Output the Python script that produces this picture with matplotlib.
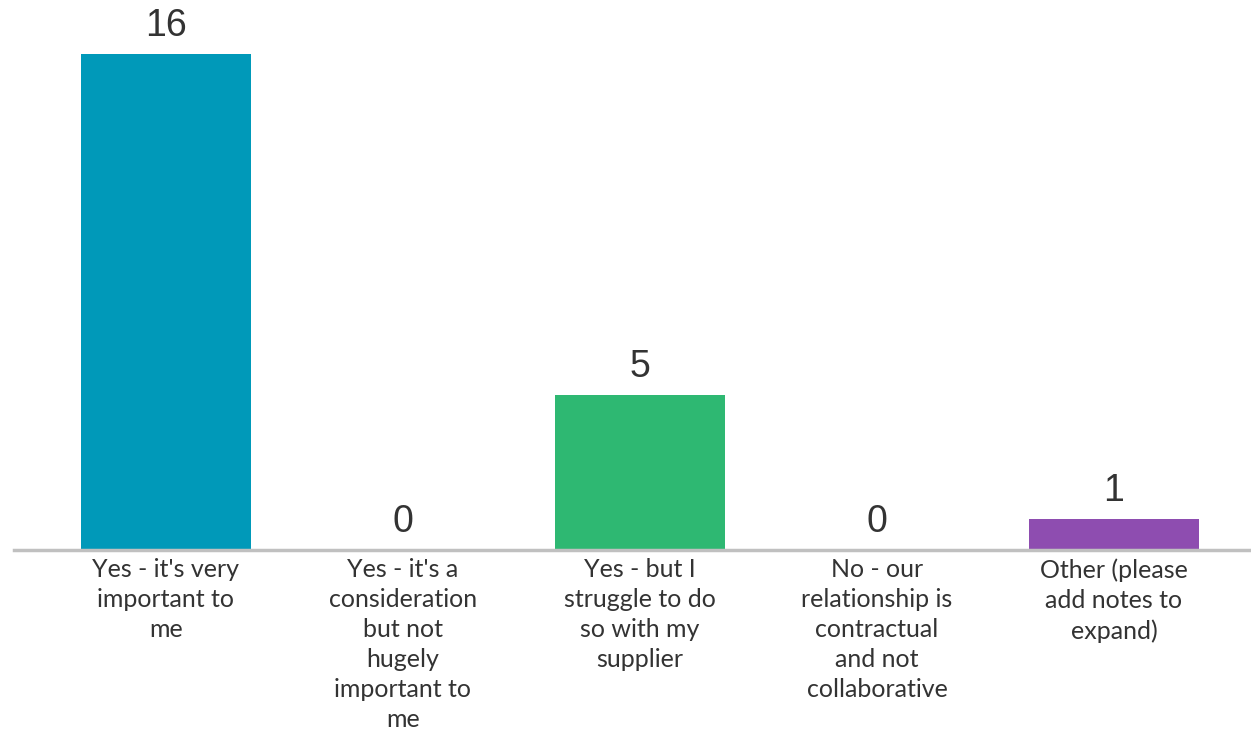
import numpy as np
import matplotlib.pyplot as plt

categories = [
    "Yes - it's very\nimportant to\nme",
    "Yes - it's a\nconsideration\nbut not\nhugely\nimportant to\nme",
    "Yes - but I\nstruggle to do\nso with my\nsupplier",
    "No - our\nrelationship is\ncontractual\nand not\ncollaborative",
    "Other (please\nadd notes to\nexpand)",
]
counts = [16, 0, 5, 0, 1]
colors = ["#0099b9", "#0099b9", "#2eb872", "#2eb872", "#8e4db0"]

fig = plt.figure(figsize=(12.51, 7.34), dpi=100)
ax = fig.add_axes([0, 1 - 550 / 734, 1, 550 / 734])

x = np.arange(len(categories))
ax.bar(x, counts, width=0.72, color=colors, zorder=2)

for xi, c in zip(x, counts):
    ax.annotate(str(c), (xi, c), xytext=(0, 7), textcoords="offset points",
                ha="center", va="bottom", fontsize=27, color="#333333",
                family="Liberation Sans")

ax.set_xlim(-0.70, 4.578)
ax.set_ylim(0, 550 / 31)

for s in ["top", "right", "left"]:
    ax.spines[s].set_visible(False)
ax.spines["bottom"].set_color("#c0c0c0")
ax.spines["bottom"].set_linewidth(2.5)
ax.spines["bottom"].set_bounds(-0.641, 4.578)
ax.set_yticks([])
ax.set_xticks(x)
ax.set_xticklabels(categories, fontsize=18, color="#333333", family="Lato",
                   linespacing=1.37)
ax.tick_params(axis="x", length=0, pad=6)

fig.savefig("out.png", dpi=100)
